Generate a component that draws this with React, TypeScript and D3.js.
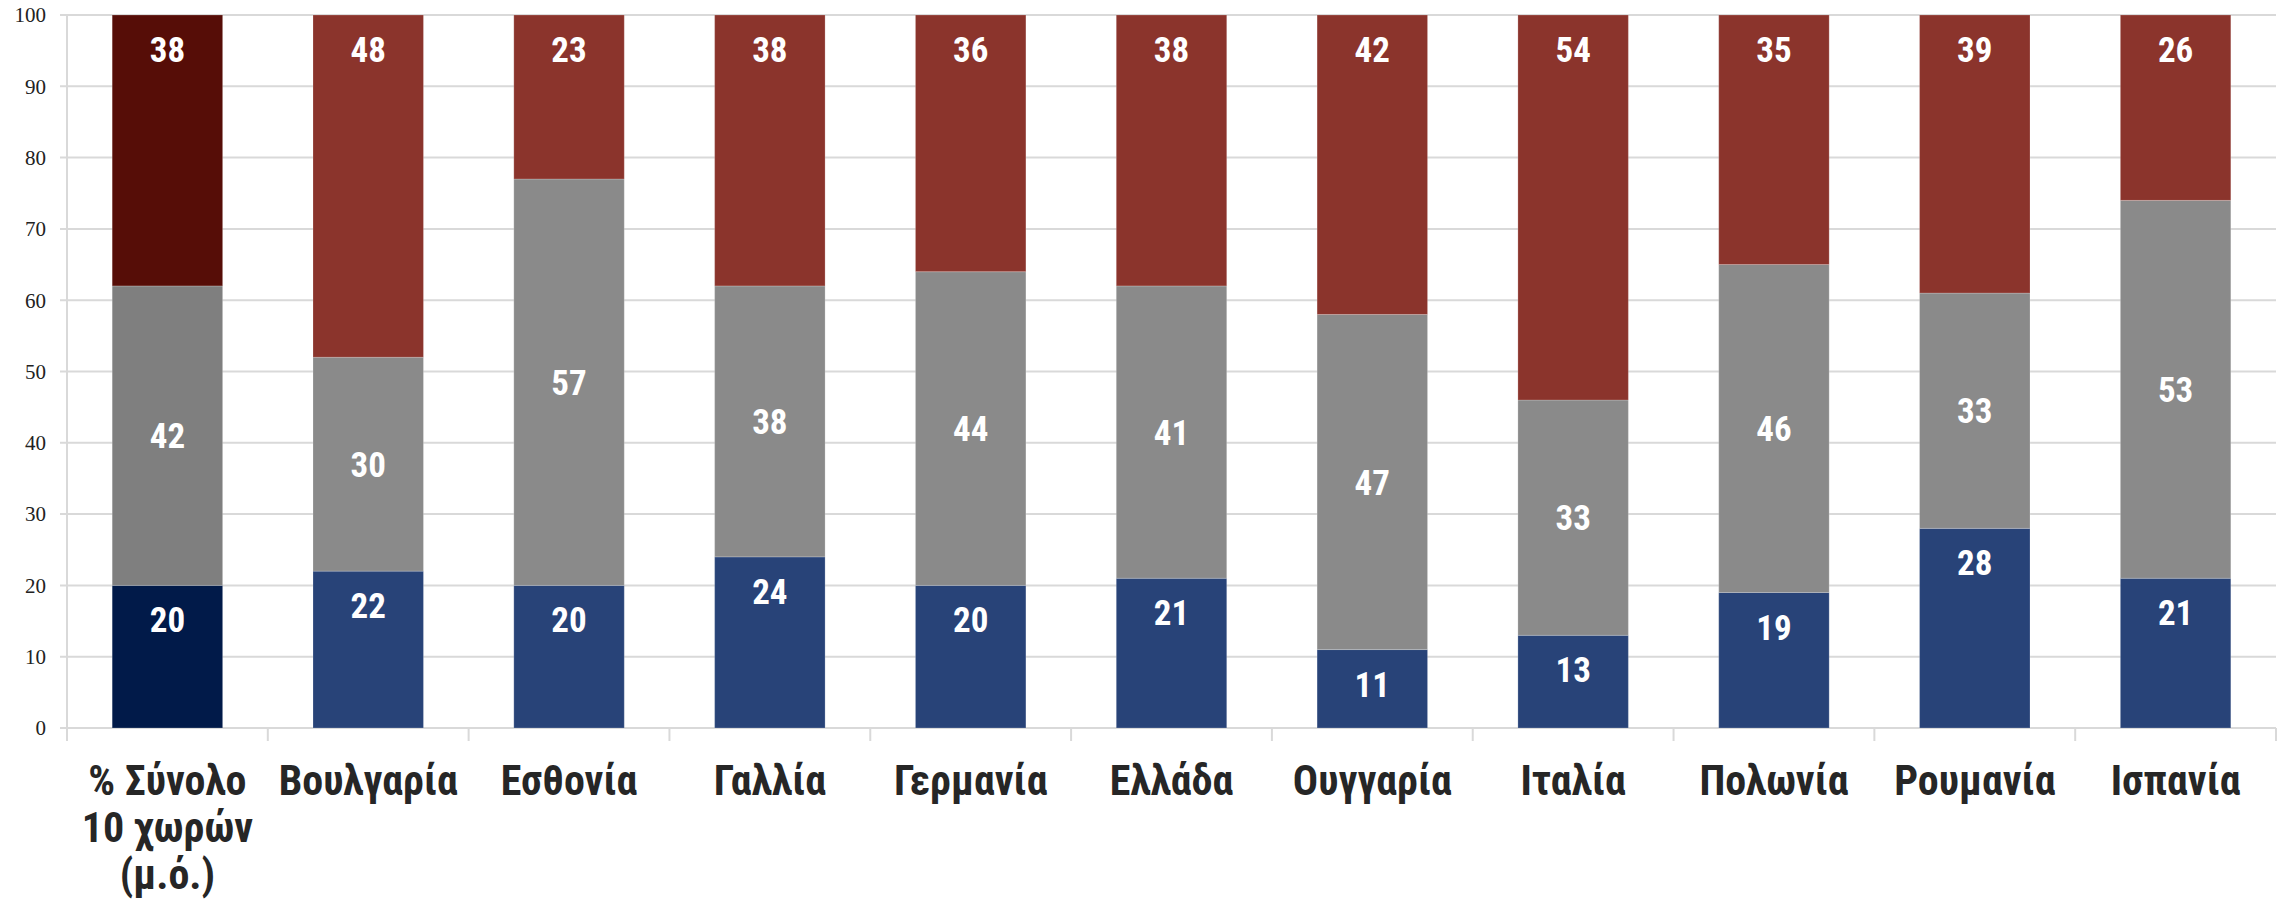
import React from "react";
import * as d3 from "d3";

const categories: string[][] = [
  ["% Σύνολο", "10 χωρών", "(μ.ό.)"],
  ["Βουλγαρία"],
  ["Εσθονία"],
  ["Γαλλία"],
  ["Γερμανία"],
  ["Ελλάδα"],
  ["Ουγγαρία"],
  ["Ιταλία"],
  ["Πολωνία"],
  ["Ρουμανία"],
  ["Ισπανία"],
];
const blueValues = [20, 22, 20, 24, 20, 21, 11, 13, 19, 28, 21];
const grayValues = [42, 30, 57, 38, 44, 41, 47, 33, 46, 33, 53];
const redValues = [38, 48, 23, 38, 36, 38, 42, 54, 35, 39, 26];
const yTicks = [0, 10, 20, 30, 40, 50, 60, 70, 80, 90, 100];

const W = 2290;
const H = 902;
const M = { left: 67, right: 2276, top: 15, bottom: 728 };

const colorsFirst = { blue: "#011A49", gray: "#7F7F7F", red: "#560D07" };
const colorsOther = { blue: "#284378", gray: "#8A8A8A", red: "#8B342C" };

const labelFont = "'Liberation Sans Narrow', 'Arial Narrow', 'Roboto Condensed', sans-serif";

export default function App() {
  const idx = categories.map((_, i) => String(i));
  const x = d3.scaleBand<string>().domain(idx).range([M.left, M.right]).paddingInner(0.45).paddingOuter(0.225);
  const xb = d3.scaleBand<string>().domain(idx).range([M.left, M.right]).padding(0);
  const y = d3.scaleLinear().domain([0, 100]).range([M.bottom, M.top]);

  const stacks = categories.map((_, i) => {
    const segs = [
      { key: "blue", v: blueValues[i], pos: "end" },
      { key: "gray", v: grayValues[i], pos: "center" },
      { key: "red", v: redValues[i], pos: "end" },
    ];
    let acc = 0;
    return segs.map((s) => {
      const y0 = acc;
      acc += s.v;
      return { ...s, y0, y1: acc };
    });
  });

  return (
    <svg width={W} height={H} style={{ display: "block", position: "absolute", left: 0, top: 0, background: "#fff" }}>
      {/* gridlines */}
      {yTicks.map((t) => (
        <line key={"g" + t} x1={60} x2={M.right} y1={y(t)} y2={y(t)} stroke="#d9d9d9" strokeWidth={2} />
      ))}
      {/* y axis */}
      <line x1={M.left} x2={M.left} y1={M.top} y2={M.bottom + 13} stroke="#d9d9d9" strokeWidth={2} />
      {/* category boundary ticks */}
      {idx.map((k) => (
        <line key={"t" + k} x1={(xb(k) as number) + xb.bandwidth()} x2={(xb(k) as number) + xb.bandwidth()} y1={M.bottom} y2={M.bottom + 13} stroke="#d9d9d9" strokeWidth={2} />
      ))}
      {/* y labels */}
      {yTicks.map((t) => (
        <text key={"yl" + t} x={46} y={y(t)} dy="0.35em" textAnchor="end" fontFamily="'Liberation Serif', 'DejaVu Serif', serif" fontSize={21} fill="#222">
          {t}
        </text>
      ))}
      {/* bars */}
      {stacks.map((segs, i) => {
        const cols = i === 0 ? colorsFirst : colorsOther;
        const bx = x(String(i)) as number;
        const bw = x.bandwidth();
        return (
          <g key={"b" + i}>
            {segs.map((s) => (
              <rect key={s.key} x={bx} y={y(s.y1)} width={bw} height={y(s.y0) - y(s.y1)} fill={(cols as any)[s.key]} stroke="#ffffff" strokeOpacity={0.2} strokeWidth={1} />
            ))}
            {segs.map((s) => {
              const ly = s.pos === "end" ? y(s.y1) + 47 : (y(s.y0) + y(s.y1)) / 2 + 12.5;
              return (
                <text key={"l" + s.key} x={bx + bw / 2} y={ly} textAnchor="middle" fontFamily={labelFont} fontWeight="bold" fontSize={35} fill="#fff">
                  {s.v}
                </text>
              );
            })}
          </g>
        );
      })}
      {/* x labels */}
      {categories.map((lines, i) => {
        const cx = (xb(String(i)) as number) + xb.bandwidth() / 2;
        return (
          <text key={"xl" + i} textAnchor="middle" fontFamily={labelFont} fontWeight="bold" fontSize={42} fill="#262626">
            {lines.map((ln, j) => (
              <tspan key={j} x={cx} y={795 + j * 47}>
                {ln}
              </tspan>
            ))}
          </text>
        );
      })}
    </svg>
  );
}
